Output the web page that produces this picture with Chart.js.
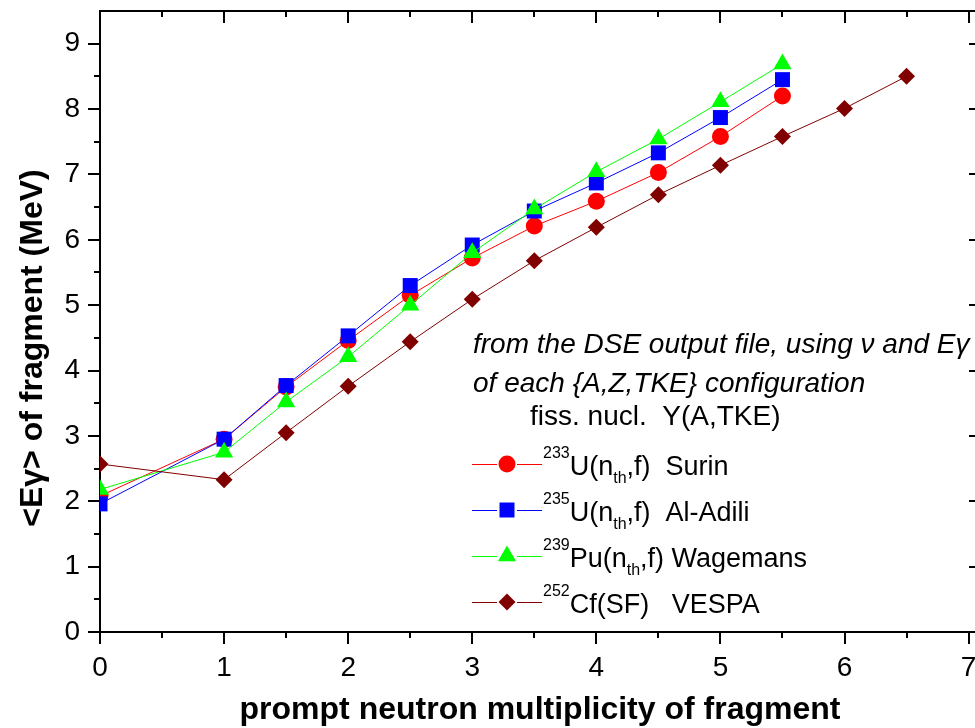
<!DOCTYPE html>
<html>
<head>
<meta charset="utf-8">
<title>Mean gamma energy vs prompt neutron multiplicity</title>
<script src="https://cdn.jsdelivr.net/npm/chart.js@4.4.0/dist/chart.umd.min.js"></script>
<style>
  html, body { margin: 0; padding: 0; background: #ffffff; overflow: hidden; }
  #wrap { width: 975px; height: 728px; position: relative; overflow: hidden; }
  #chart { display: block; }
</style>
</head>
<body>
<div id="wrap"><canvas id="chart" width="981" height="728"></canvas></div>
<script>
// Mean prompt-gamma energy per fragment versus prompt neutron multiplicity
const nuU233  = [0, 1, 1.5, 2, 2.5, 3, 3.5, 4, 4.5, 5, 5.5];
const egU233  = [2.08, 2.95, 3.75, 4.46, 5.15, 5.72, 6.21, 6.59, 7.03, 7.58, 8.20];

const nuU235  = [0, 1, 1.5, 2, 2.5, 3, 3.5, 4, 4.5, 5, 5.5];
const egU235  = [1.96, 2.95, 3.77, 4.53, 5.30, 5.92, 6.44, 6.87, 7.33, 7.87, 8.45];

const nuPu239 = [0, 1, 1.5, 2, 2.5, 3, 3.5, 4, 4.5, 5, 5.5];
const egPu239 = [2.18, 2.75, 3.52, 4.21, 5.00, 5.80, 6.47, 7.04, 7.54, 8.11, 8.69];

const nuCf252 = [0, 1, 1.5, 2, 2.5, 3, 3.5, 4, 4.5, 5, 5.5, 6, 6.5];
const egCf252 = [2.57, 2.33, 3.05, 3.76, 4.44, 5.09, 5.68, 6.19, 6.69, 7.14, 7.58, 8.01, 8.50];

// Axis ticks
const xTickValues = [0, 1, 2, 3, 4, 5, 6, 7];
const yTickValues = [0, 1, 2, 3, 4, 5, 6, 7, 8, 9];
const xMinorStep = 0.5;
const yMinorStep = 0.5;

// Legend entries: superscript, text, subscript, rest
const legendRows = [
  { sup: '233', pre: 'U(n', sub: 'th', post: ',f)  Surin' },
  { sup: '235', pre: 'U(n', sub: 'th', post: ',f)  Al-Adili' },
  { sup: '239', pre: 'Pu(n', sub: 'th', post: ',f) Wagemans' },
  { sup: '252', pre: 'Cf(SF)   VESPA', sub: '', post: '' }
];

const noteLines = [
  'from the DSE output file, using \u03BD and E\u03B3',
  'of each {A,Z,TKE} configuration',
  'fiss. nucl.  Y(A,TKE)'
];
const xTitle = 'prompt neutron multiplicity of fragment';
const yTitle = '<E\u03B3> of fragment (MeV)';

const FONT = "'Liberation Sans', Arial, Helvetica, sans-serif";

const pts = (xs, ys) => xs.map((v, i) => ({ x: v, y: ys[i] }));

const series = [
  { color: '#ff0000', style: 'circle',   radius: 8.5,  xs: nuU233,  ys: egU233,  order: 4 },
  { color: '#0000ff', style: 'rect',     radius: 10.6, xs: nuU235,  ys: egU235,  order: 3 },
  { color: '#00ff00', style: 'triangle', radius: 10.5, xs: nuPu239, ys: egPu239, order: 2 },
  { color: '#800000', style: 'rectRot',  radius: 8.5,  xs: nuCf252, ys: egCf252, order: 1 }
];

function drawMarker(ctx, style, r, x, y, color) {
  ctx.save();
  ctx.fillStyle = color;
  ctx.beginPath();
  if (style === 'circle') {
    ctx.arc(x, y, r, 0, Math.PI * 2);
  } else if (style === 'rect') {
    const s = r * Math.SQRT1_2;
    ctx.rect(x - s, y - s, 2 * s, 2 * s);
  } else if (style === 'triangle') {
    for (let k = 0; k < 3; k++) {
      const a = k * 2 * Math.PI / 3;
      const px = x + Math.sin(a) * r, py = y - Math.cos(a) * r;
      if (k === 0) ctx.moveTo(px, py); else ctx.lineTo(px, py);
    }
    ctx.closePath();
  } else {
    ctx.moveTo(x, y - r); ctx.lineTo(x + r, y); ctx.lineTo(x, y + r); ctx.lineTo(x - r, y);
    ctx.closePath();
  }
  ctx.fill();
  ctx.restore();
}

// Box frame with outward ticks on left/bottom, inward on top/right
const framePlugin = {
  id: 'frame',
  beforeDatasetsDraw(chart) {
    const { ctx, chartArea: a, scales: { x, y } } = chart;
    ctx.save();
    ctx.strokeStyle = '#000';
    ctx.lineWidth = 2;
    ctx.strokeRect(a.left, a.top, a.right - a.left, a.bottom - a.top);
    ctx.beginPath();
    const xMax = xTickValues[xTickValues.length - 1];
    for (let v = 0; v <= xMax + 1e-6; v += xMinorStep) {
      const px = Math.round(x.getPixelForValue(v));
      const L = Math.abs(v - Math.round(v)) < 1e-6 ? 12 : 6;
      ctx.moveTo(px, a.bottom); ctx.lineTo(px, a.bottom + L);
      ctx.moveTo(px, a.top);    ctx.lineTo(px, a.top + L);
    }
    const yMax = yTickValues[yTickValues.length - 1];
    for (let v = 0; v <= yMax + 1e-6; v += yMinorStep) {
      const py = Math.round(y.getPixelForValue(v));
      const L = Math.abs(v - Math.round(v)) < 1e-6 ? 12 : 6;
      ctx.moveTo(a.left, py);  ctx.lineTo(a.left - L, py);
      ctx.moveTo(a.right, py); ctx.lineTo(a.right - L, py);
    }
    ctx.stroke();
    ctx.restore();
  },
  afterDraw(chart) {
    const { ctx } = chart;
    ctx.save();
    ctx.fillStyle = '#000';
    ctx.textBaseline = 'alphabetic';

    // axis titles
    ctx.font = 'bold 32px ' + FONT;
    ctx.textAlign = 'center';
    ctx.fillText(xTitle, 540, 719);
    ctx.save();
    ctx.translate(42, 348);
    ctx.rotate(-Math.PI / 2);
    ctx.fillText(yTitle, 0, 0);
    ctx.restore();

    // note
    ctx.textAlign = 'left';
    ctx.font = 'italic 28px ' + FONT;
    ctx.fillText(noteLines[0], 473, 353);
    ctx.fillText(noteLines[1], 473, 392);
    ctx.font = '28px ' + FONT;
    ctx.fillText(noteLines[2], 530, 425);

    // legend
    const rowY = [464, 510, 556, 602];
    legendRows.forEach((row, i) => {
      const s = series[i];
      const cy = rowY[i];
      ctx.strokeStyle = s.color;
      ctx.lineWidth = 1;
      ctx.beginPath();
      ctx.moveTo(472, cy + 0.5); ctx.lineTo(497, cy + 0.5);
      ctx.moveTo(517, cy + 0.5); ctx.lineTo(542, cy + 0.5);
      ctx.stroke();
      drawMarker(ctx, s.style, s.radius, 507, cy, s.color);

      let tx = 543;
      ctx.fillStyle = '#000';
      ctx.font = '16px ' + FONT;
      ctx.fillText(row.sup, tx, cy - 6);
      tx += ctx.measureText(row.sup).width;
      ctx.font = '27px ' + FONT;
      ctx.fillText(row.pre, tx, cy + 11);
      tx += ctx.measureText(row.pre).width;
      if (row.sub) {
        ctx.font = '16px ' + FONT;
        ctx.fillText(row.sub, tx, cy + 19);
        tx += ctx.measureText(row.sub).width;
      }
      if (row.post) {
        ctx.font = '27px ' + FONT;
        ctx.fillText(row.post, tx, cy + 11);
      }
    });
    ctx.restore();
  }
};

const datasets = series.map(s => ({
  data: pts(s.xs, s.ys),
  borderColor: s.color,
  backgroundColor: s.color,
  borderWidth: 1,
  pointStyle: s.style,
  pointRadius: s.radius,
  pointBorderWidth: 0,
  pointBackgroundColor: s.color,
  pointBorderColor: s.color,
  pointHoverRadius: s.radius,
  tension: 0,
  fill: false,
  order: s.order
}));

new Chart(document.getElementById('chart'), {
  type: 'line',
  data: { datasets },
  plugins: [framePlugin],
  options: {
    responsive: false,
    devicePixelRatio: 1,
    animation: false,
    events: [],
    layout: { autoPadding: false, padding: { top: 11, right: 0, left: 0, bottom: 0 } },
    plugins: { legend: { display: false }, tooltip: { enabled: false } },
    scales: {
      x: {
        type: 'linear',
        min: 0,
        max: 7.1,
        afterFit(s) { s.height = 96; s.paddingLeft = 0; s.paddingRight = 0; },
        grid: { display: false, drawTicks: false },
        border: { display: false },
        afterBuildTicks(s) { s.ticks = xTickValues.map(v => ({ value: v })); },
        ticks: { color: '#000', font: { family: FONT, size: 28 }, padding: 19, maxRotation: 0, autoSkip: false }
      },
      y: {
        type: 'linear',
        min: 0,
        max: 9.5,
        afterFit(s) { s.width = 100; s.paddingTop = 0; s.paddingBottom = 0; },
        grid: { display: false, drawTicks: false },
        border: { display: false },
        afterBuildTicks(s) { s.ticks = yTickValues.map(v => ({ value: v })); },
        ticks: { color: '#000', font: { family: FONT, size: 28 }, padding: 20, autoSkip: false }
      }
    }
  }
});
</script>
</body>
</html>
